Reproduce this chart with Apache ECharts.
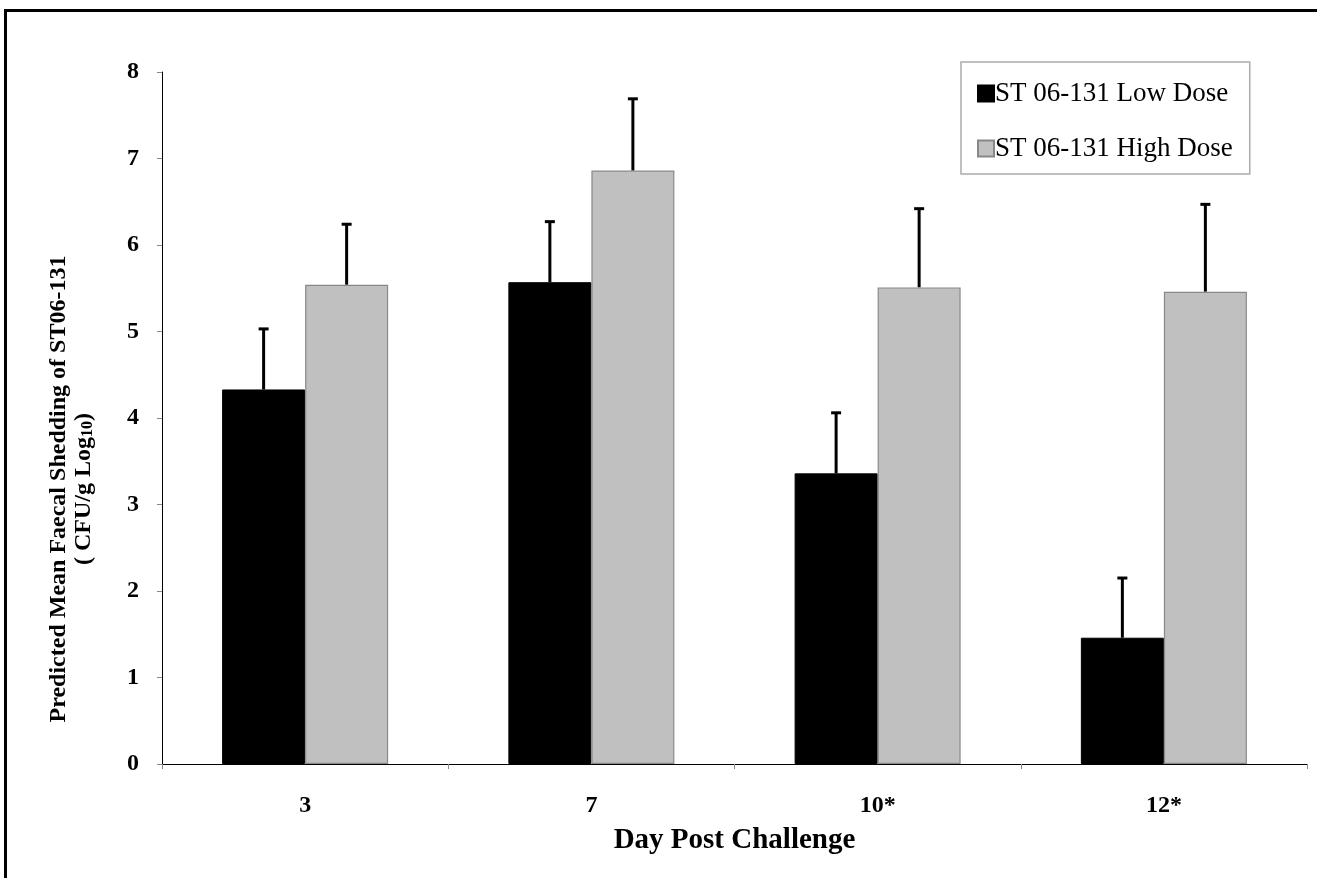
<!DOCTYPE html>
<html>
<head>
<meta charset="utf-8">
<script src="https://cdn.jsdelivr.net/npm/echarts@6/dist/echarts.min.js"></script>
<style>
html,body{margin:0;padding:0;background:#fff;}
#frame{position:absolute;left:4px;top:9px;width:1313px;height:869px;border-top:3px solid #000;border-left:3px solid #000;box-sizing:border-box;}
#chart{position:absolute;left:0;top:0;width:1317px;height:878px;}
</style>
</head>
<body>
<div id="frame"></div>
<div id="chart"></div>
<script>
const categories = ['3', '7', '10*', '12*'];
const lowDose = [4.33, 5.57, 3.36, 1.46];
const highDose = [5.54, 6.86, 5.51, 5.46];
const lowUpper = [5.03, 6.27, 4.06, 2.15];
const highUpper = [6.24, 7.69, 6.42, 6.47];
const yTicks = [0, 1, 2, 3, 4, 5, 6, 7, 8];
const seriesNames = ['ST 06-131 Low Dose', 'ST 06-131 High Dose'];

const FONT = '"Liberation Serif", "Times New Roman", serif';
const CAT_GAP = 0.42;

function errItem(offsetSign) {
  return function (params, api) {
    const idx = api.value(0);
    const base = api.coord([idx, api.value(1)]);
    const top = api.coord([idx, api.value(2)]);
    const band = api.size([1, 0])[0];
    const barW = band * (1 - CAT_GAP) / 2;
    const x = base[0] + offsetSign * barW / 2;
    const cap = 5;
    return {
      type: 'group',
      children: [
        { type: 'line', shape: { x1: x, y1: base[1], x2: x, y2: top[1] }, style: { stroke: '#000', lineWidth: 3 } },
        { type: 'line', shape: { x1: x - cap, y1: top[1], x2: x + cap, y2: top[1] }, style: { stroke: '#000', lineWidth: 3 } }
      ]
    };
  };
}

const chart = echarts.init(document.getElementById('chart'), null, { renderer: 'canvas' });
chart.setOption({
  backgroundColor: 'transparent',
  animation: false,
  textStyle: { fontFamily: FONT },
  grid: { left: 162, right: 10, top: 72, bottom: 114, containLabel: false },
  legend: {
    orient: 'vertical',
    left: 961,
    top: 62,
    padding: [18, 17, 12, 16],
    itemWidth: 16,
    itemHeight: 16,
    itemGap: 28,
    borderColor: '#aaa',
    borderWidth: 1.5,
    icon: 'rect',
    data: seriesNames,
    textStyle: { fontFamily: FONT, fontSize: 27, color: '#000', padding: [0, 0, 0, -4] }
  },
  xAxis: {
    type: 'category',
    data: categories,
    axisLine: { lineStyle: { color: '#000', width: 1 } },
    axisTick: { show: true, length: 5, lineStyle: { color: '#888' } },
    axisLabel: { fontFamily: FONT, fontWeight: 'bold', fontSize: 24, color: '#000', margin: 30 },
    name: 'Day Post Challenge',
    nameLocation: 'middle',
    nameGap: 62,
    nameTextStyle: { fontFamily: FONT, fontWeight: 'bold', fontSize: 29, color: '#000' }
  },
  yAxis: {
    type: 'value',
    min: 0,
    max: 8,
    interval: 1,
    splitLine: { show: false },
    axisLine: { show: true, lineStyle: { color: '#000', width: 1 } },
    axisTick: { show: true, length: 5, lineStyle: { color: '#888' } },
    axisLabel: {
      fontFamily: FONT, fontWeight: 'bold', fontSize: 24, color: '#000', margin: 23,
      formatter: function (v) { return yTicks.indexOf(v) >= 0 ? String(v) : ''; }
    },
    name: 'Predicted Mean Faecal Shedding of ST06-131\n( CFU/g Log{sub|10})',
    nameLocation: 'middle',
    nameGap: 66,
    nameTextStyle: {
      fontFamily: FONT, fontWeight: 'bold', fontSize: 24, color: '#000', lineHeight: 25,
      padding: [0, 142, 0, 0],
      rich: { sub: { fontFamily: FONT, fontWeight: 'bold', fontSize: 16, color: '#000', verticalAlign: 'bottom', padding: [12, 0, 0, 0] } }
    }
  },
  series: [
    {
      name: seriesNames[0], type: 'bar', data: lowDose,
      barGap: '0%', barCategoryGap: (CAT_GAP * 100) + '%',
      itemStyle: { color: '#000', borderColor: '#000', borderWidth: 1 }
    },
    {
      name: seriesNames[1], type: 'bar', data: highDose,
      barGap: '0%', barCategoryGap: (CAT_GAP * 100) + '%',
      itemStyle: { color: '#c0c0c0', borderColor: '#888', borderWidth: 1.2 }
    },
    {
      type: 'custom', silent: true, z: 1,
      data: lowDose.map((v, i) => [i, v, lowUpper[i]]),
      renderItem: errItem(-1),
      encode: { x: 0, y: [1, 2] }
    },
    {
      type: 'custom', silent: true, z: 1,
      data: highDose.map((v, i) => [i, v, highUpper[i]]),
      renderItem: errItem(1),
      encode: { x: 0, y: [1, 2] }
    }
  ]
});
</script>
</body>
</html>
